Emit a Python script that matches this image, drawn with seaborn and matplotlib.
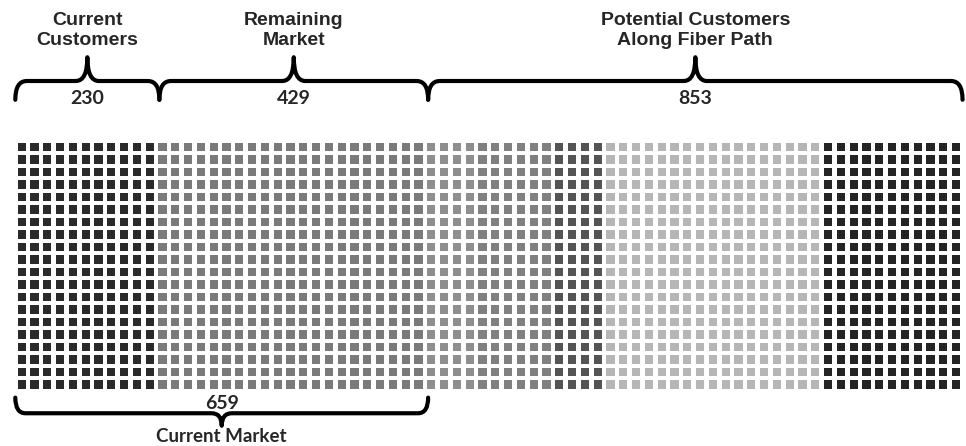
import numpy as np
import pandas as pd
import seaborn as sns
import matplotlib.pyplot as plt
from matplotlib.path import Path
from matplotlib.patches import PathPatch

# Segment values
segment_labels = ['Current\nCustomers', 'Remaining\nMarket', 'Potential Customers\nAlong Fiber Path']
segment_counts = [230, 429, 853]
market_label = 'Current Market'

# Waffle grid and the column bands of shading
n_cols = 74
n_rows = 20
band_widths = [11, 21, 4, 6, 4, 17, 11]
band_colors = ['#2a2a2a', '#7a7a7a', '#8e8e8e', '#808080', '#545454', '#b6b6b6', '#242424']

sns.set_style('white')

# Build one row per square
band_of_col = np.repeat(np.arange(len(band_widths)), band_widths)
cols, rows = np.meshgrid(np.arange(n_cols), np.arange(n_rows))
df = pd.DataFrame({'col': cols.ravel(), 'row': rows.ravel()})
df['band'] = band_of_col[df['col']]

fig = plt.figure(figsize=(9.66, 4.46), dpi=100)
ax = fig.add_axes([0, 0, 1, 1])
sns.scatterplot(data=df, x='col', y='row', hue='band', palette=band_colors,
                marker='s', s=34, linewidth=0, legend=False, ax=ax)
ax.set_xlim(-1.695, 73.77)
ax.set_ylim(23.92, -11.76)
ax.axis('off')


def brace(ax, x0, x1, y, d_end, d_tip, r=0.9, lw=3.0):
    xm = (x0 + x1) / 2
    verts = [(x0, y + d_end), (x0, y), (x0 + r, y),
             (xm - r, y), (xm, y), (xm, y + d_tip),
             (xm, y), (xm + r, y),
             (x1 - r, y), (x1, y), (x1, y + d_end)]
    codes = [Path.MOVETO, Path.CURVE3, Path.CURVE3,
             Path.LINETO, Path.CURVE3, Path.CURVE3,
             Path.CURVE3, Path.CURVE3,
             Path.LINETO, Path.CURVE3, Path.CURVE3]
    ax.add_patch(PathPatch(Path(verts, codes), fill=False, lw=lw,
                           edgecolor='black', capstyle='round', joinstyle='round'))
    return xm


# Segment boundaries in column units from the counts
total = sum(segment_counts)
bounds = np.concatenate([[0], np.cumsum(segment_counts)]) / total * n_cols - 0.5

for i, (lab, cnt) in enumerate(zip(segment_labels, segment_counts)):
    xm = brace(ax, bounds[i], bounds[i + 1], -5.28, 1.5, -1.9)
    ax.text(xm, -9.3, lab, ha='center', va='center', fontsize=14,
            fontweight='bold', family='Liberation Sans')
    ax.text(xm, -3.85, f'{cnt}', ha='center', va='center', fontsize=14,
            fontweight='bold', family='Lato')

# Current market brace below the grid
market_total = segment_counts[0] + segment_counts[1]
xm = brace(ax, bounds[0], bounds[2], 21.3, -1.25, 1.0, r=0.8)
ax.text(xm, 20.5, f'{market_total}', ha='center', va='center', fontsize=14,
        fontweight='bold', family='Lato')
ax.text(xm, 23.2, market_label, ha='center', va='center', fontsize=13.5,
        fontweight='bold', family='Lato')

fig.savefig('out.png', dpi=100)
